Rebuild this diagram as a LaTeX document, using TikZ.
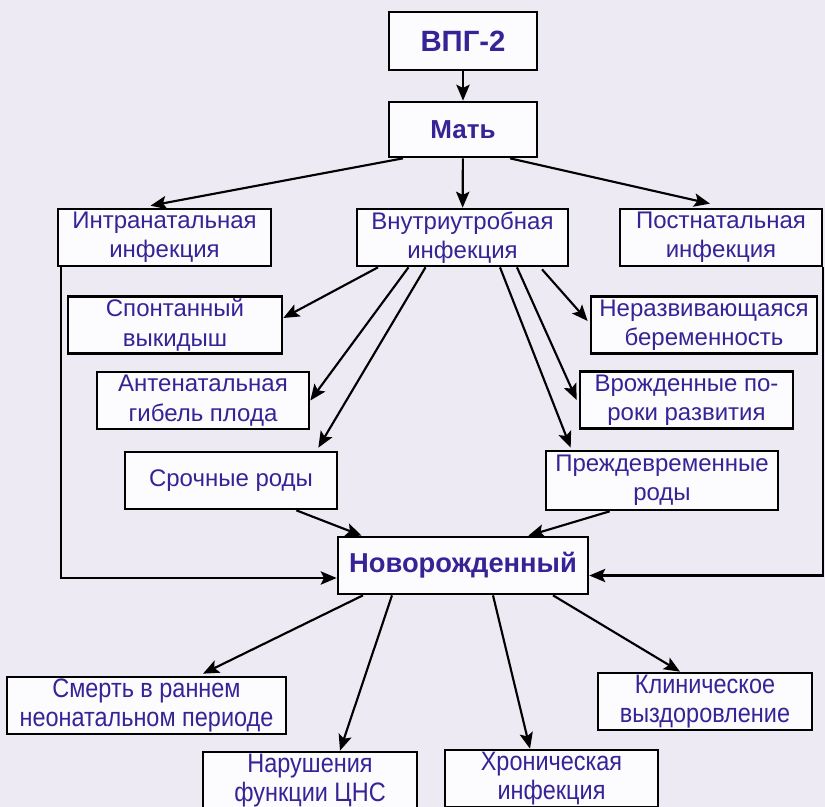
\documentclass[tikz,border=0pt]{standalone}
\usepackage{fontspec}
\setmainfont{Liberation Sans}
\newfontfamily\narrowfont[FakeStretch=0.88]{Liberation Sans}
\usetikzlibrary{arrows.meta,calc}

\definecolor{bgcol}{RGB}{237,234,243}
\definecolor{txtcol}{RGB}{55,35,150}

\begin{document}
\begin{tikzpicture}[x=0.75pt,y=-0.75pt,
    box/.style={draw, line width=2pt, fill=white, fill opacity=0.85, text opacity=1,
        text=txtcol, align=center, inner sep=0pt, minimum height=42.75pt,
        font=\fontsize{18}{22}\selectfont},
    head/.style={box, font=\fontsize{20.5}{24}\selectfont\bfseries},
    low/.style={box, font=\fontsize{20}{21.5}\narrowfont},
    arr/.style={-{Stealth[length=12pt,width=10pt,inset=2.5pt]}, line width=1.6pt},
    lin/.style={line width=1.6pt}]
    \useasboundingbox (0,0) rectangle (825,807);
    \fill[bgcol] (0,0) rectangle (825,807);
    \clip (0,0) rectangle (825,807);

    % top
    \node[head, minimum width=111pt, minimum height=43.5pt, font=\fontsize{22}{24}\selectfont\bfseries] (vpg) at (463,41) {ВПГ-2};
    \node[head, minimum width=111pt, minimum height=41.25pt, font=\fontsize{19.5}{24}\selectfont\bfseries] (mat) at (463,129.5) {Мать};

    % infections
    \node[box, minimum width=159.75pt] (intra) at (164.5,237.5) {Интранатальная\\инфекция};
    \node[box, minimum width=158.25pt] (vnutri) at (462.5,237.5) {Внутриутробная\\инфекция};
    \node[box, minimum width=151.5pt] (post) at (721,237.5) {Постнатальная\\инфекция};

    % outcomes of pregnancy
    \node[box, minimum width=160.5pt] (spont) at (175,325) {Спонтанный\\выкидыш};
    \node[box, minimum width=169.5pt] (nerazv) at (704,325) {Неразвивающаяся\\беременность};
    \node[box, minimum width=159pt] (antenat) at (203,400.5) {Антенатальная\\гибель плода};
    \node[box, minimum width=159.75pt] (vrozh) at (686.5,400) {Врожденные по-\\роки развития};
    \node[box, minimum width=159pt] (sroch) at (231,480.5) {Срочные роды};
    \node[box, minimum width=174pt, minimum height=44.25pt] (prezh) at (662,480.5) {Преждевременные\\роды};

    \node[head, minimum width=187.5pt] (novor) at (463,565.5) {Новорожденный};

    % outcomes for the newborn
    \node[low, minimum width=209.25pt] (smert) at (146.5,705.5) {Смерть в раннем\\неонатальном периоде};
    \node[low, minimum width=160.5pt] (klin) at (705,701.5) {Клиническое\\выздоровление};
    \node[low, minimum width=160.5pt] (narush) at (310,780.5) {Нарушения\\функции ЦНС};
    \node[low, minimum width=159.75pt] (khron) at (551.5,778.5) {Хроническая\\инфекция};

    \draw[arr] (vpg) -- (mat);
    \draw[arr] ($(mat.south)+(-60,0)$) -- ($(intra.north)+(-14,-2)$);
    \draw[arr] (mat) -- (vnutri);
    \draw[arr] ($(mat.south)+(47,0)$) -- ($(post.north)+(-11,-4)$);

    \draw[arr] ($(vnutri.south)+(-84.5,0)$) -- ($(spont.east)+(0,-7)$);
    \draw[arr] ($(vnutri.south)+(-54,0)$) -- (antenat.east);
    \draw[arr] ($(vnutri.south)+(-37,0)$) -- ($(sroch.north east)+(-20,-3)$);
    \draw[arr] ($(vnutri.south)+(79.5,2)$) -- ($(nerazv.west)+(-2,-4)$);
    \draw[arr] ($(vnutri.south)+(54.5,0)$) -- ($(vrozh.west)+(-2,0)$);
    \draw[arr] ($(vnutri.south)+(37.5,0)$) -- ($(prezh.north west)+(26,-2)$);

    \draw[arr] ($(sroch.south east)+(-42,0)$) -- ($(novor.north west)+(25,0)$);
    \draw[arr] ($(prezh.south west)+(65,0)$) -- ($(novor.north east)+(-61,0)$);
    \draw[arr] ($(intra.south west)+(4,0)$) |- ($(novor.west)+(0,12.5)$);
    \draw[arr] ($(post.south east)+(0,0)$) |- ($(novor.east)+(0,10)$);

    \draw[arr] ($(novor.south)+(-100,0)$) -- ($(smert.north)+(56.5,-2)$);
    \draw[arr] ($(novor.south)+(-71,0)$) -- ($(narush.north)+(30,0)$);
    \draw[arr] ($(novor.south)+(30,0)$) -- ($(khron.north)+(-21.5,0)$);
    \draw[arr] ($(novor.south)+(90,0)$) -- ($(klin.north)+(-25,0)$);
\end{tikzpicture}
\end{document}
